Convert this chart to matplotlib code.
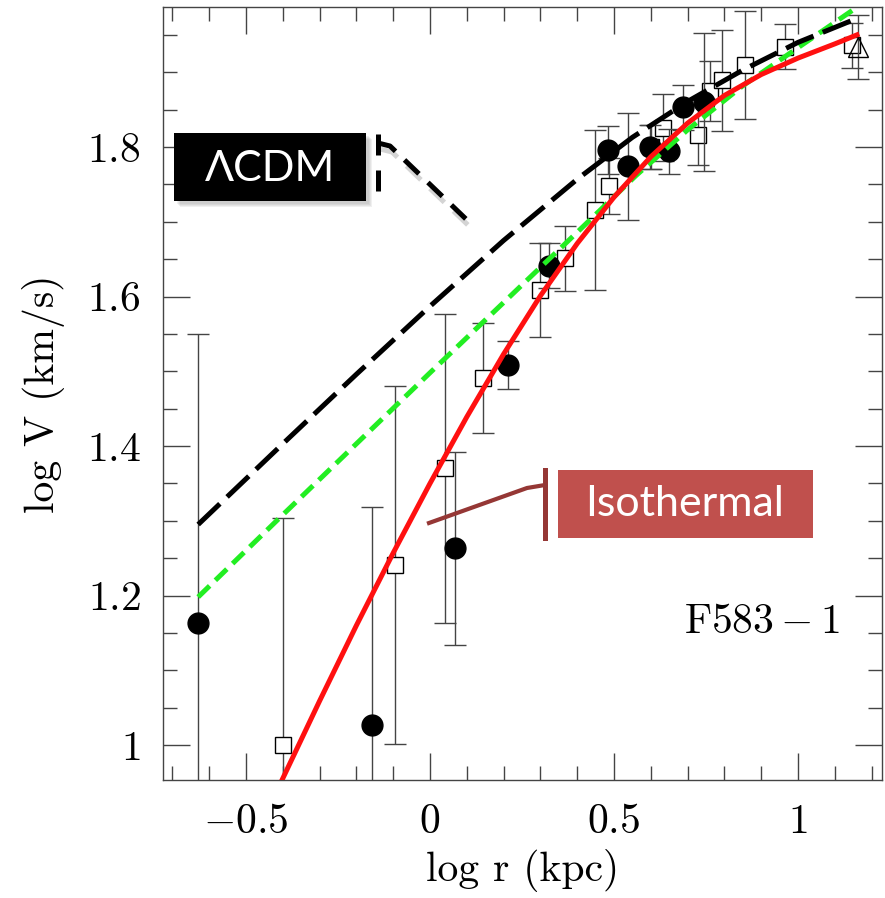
import numpy as np
import matplotlib
import matplotlib.pyplot as plt
from matplotlib.patches import Rectangle
from matplotlib.lines import Line2D
from matplotlib.transforms import Affine2D
from matplotlib.ticker import MultipleLocator, FuncFormatter

plt.rcParams['font.family'] = 'serif'
plt.rcParams['font.serif'] = ['cmr10']
plt.rcParams['mathtext.fontset'] = 'cm'
plt.rcParams['axes.formatter.use_mathtext'] = True

# observed points (log r, log V, error)
circ_x = [-0.630, -0.158, 0.068, 0.213, 0.323, 0.484, 0.539, 0.598, 0.648, 0.688, 0.745]
circ_y = [1.163, 1.027, 1.263, 1.508, 1.641, 1.796, 1.774, 1.800, 1.794, 1.853, 1.860]
circ_e = [0.387, 0.291, 0.129, 0.032, 0.030, 0.032, 0.072, 0.030, 0.030, 0.030, 0.092]

sq_x = [-0.399, -0.095, 0.041, 0.145, 0.299, 0.367, 0.448, 0.485, 0.600, 0.634,
        0.729, 0.760, 0.793, 0.856, 0.965, 1.146]
sq_y = [1.000, 1.241, 1.370, 1.491, 1.609, 1.651, 1.716, 1.748, 1.800, 1.826,
        1.816, 1.875, 1.889, 1.910, 1.934, 1.936]
sq_e = [0.304, 0.239, 0.207, 0.073, 0.063, 0.043, 0.107, 0.037, 0.030, 0.045,
        0.040, 0.040, 0.068, 0.072, 0.030, 0.030]

tri_x = [1.164]
tri_y = [1.934]
tri_e = [0.043]

# model curves
lcdm_x = [-0.63, -0.4, -0.2, 0.0, 0.2, 0.4, 0.55, 0.7, 0.85, 1.0, 1.16]
lcdm_y = [1.295, 1.403, 1.496, 1.587, 1.675, 1.757, 1.813, 1.861, 1.903, 1.940, 1.972]

green_x = [-0.63, -0.4, -0.2, 0.0, 0.2, 0.4, 0.56, 0.7, 0.85, 1.0, 1.16]
green_y = [1.198, 1.308, 1.403, 1.498, 1.592, 1.686, 1.762, 1.823, 1.882, 1.933, 1.987]

iso_x = [-0.41, -0.3, -0.2, -0.1, 0.0, 0.1, 0.2, 0.3, 0.4, 0.5, 0.6, 0.7, 0.8,
         0.9, 1.0, 1.1, 1.16]
iso_y = [0.945, 1.059, 1.160, 1.257, 1.350, 1.439, 1.523, 1.601, 1.671, 1.733,
         1.787, 1.832, 1.869, 1.897, 1.919, 1.938, 1.950]

W, H = 885, 898
fig = plt.figure(figsize=(W / 100, H / 100), dpi=100)
ax = fig.add_axes([163 / W, 1 - 780 / H, (882 - 163) / W, (780 - 7.3) / H])

ebar_col = '#444444'
kw = dict(ecolor=ebar_col, elinewidth=1.0, capsize=8, capthick=1.0, linestyle='none')
ax.errorbar(sq_x, sq_y, yerr=sq_e, marker='s', ms=12, mfc='white', mec='black', mew=1.0, zorder=3, **kw)
ax.errorbar(circ_x, circ_y, yerr=circ_e, marker='o', ms=15, mfc='black', mec='black', zorder=4, **kw)
ax.errorbar(tri_x, tri_y, yerr=tri_e, marker='^', ms=15, mfc='none', mec='black', mew=1.0, zorder=4, **kw)

ax.plot(green_x, green_y, color='#22ee22', lw=3.6, dashes=(3.2, 1.6), zorder=5)
ax.plot(lcdm_x, lcdm_y, color='black', lw=3.6, dashes=(6, 2), zorder=6)
ax.plot(iso_x, iso_y, color='#ff1010', lw=3.6, zorder=7, solid_joinstyle='round')

ax.set_xlim(-0.7255, 1.228)
ax.set_ylim(0.9532, 1.9869)
ax.xaxis.set_major_locator(MultipleLocator(0.5))
ax.xaxis.set_minor_locator(MultipleLocator(0.1))
ax.yaxis.set_major_locator(MultipleLocator(0.2))
ax.yaxis.set_minor_locator(MultipleLocator(0.05))
fmt = FuncFormatter(lambda v, p: '$%g$' % round(v, 2))
ax.xaxis.set_major_formatter(fmt)
ax.yaxis.set_major_formatter(fmt)
ax.tick_params(which='both', direction='in', top=True, right=True, color='#444444', width=1.0)
ax.tick_params(which='major', length=19.5, labelsize=30)
ax.tick_params(which='minor', length=10)
ax.tick_params(axis='y', which='major', pad=16)
ax.tick_params(axis='x', which='major', pad=17)
for s in ax.spines.values():
    s.set_color('#444444')
    s.set_linewidth(1.0)

ax.set_xlabel('log r (kpc)', fontsize=30, labelpad=6)
ax.set_ylabel('log V (km/s)', fontsize=30, labelpad=16)
ax.text(0.9416, 0.2045, r'$\mathrm{F583-1}$', transform=ax.transAxes, fontsize=30,
        ha='right', va='center')

# pixel-space transform for the callout overlays
T = Affine2D().scale(1 / W, -1 / H).translate(0, 1) + fig.transFigure

# LCDM callout
for off in [6, 5, 4, 3]:
    fig.add_artist(Rectangle((174 + off, 133 + off), 192, 68, transform=T,
                             facecolor='#888888', alpha=0.12, lw=0))
fig.add_artist(Rectangle((174, 133), 192, 68, transform=T, facecolor='black', lw=0))
t1 = fig.text(0, 0, '\u039bCDM', fontsize=31, color='white',
              family=['Lato'], ha='center', va='center')
t1.set_transform(T)
t1.set_position((270, 169))
fig.add_artist(Line2D([380, 392, 469], [149, 152, 226], transform=T, color='#aaaaaa',
                      lw=3.6, dashes=(4, 2.5), alpha=0.5))
fig.add_artist(Line2D([378, 378], [134, 192], transform=T, color='black', lw=3.6,
                      dashes=(4.2, 3), solid_capstyle='butt'))
fig.add_artist(Line2D([378, 390, 467], [143, 146, 220], transform=T, color='black',
                      lw=3.6, dashes=(4, 2.5)))

# Isothermal callout
fig.add_artist(Rectangle((558, 470), 255, 68, transform=T, facecolor='#c0504d', lw=0))
fig.add_artist(Line2D([545, 545], [470, 538], transform=T, color='#953735', lw=3.6))
fig.add_artist(Line2D([429, 527, 545], [523, 488, 485], transform=T, color='#953735', lw=3.0))
t2 = fig.text(0, 0, 'Isothermal', fontsize=31, color='white', family=['Lato'],
              ha='center', va='center')
t2.set_transform(T)
t2.set_position((685, 504))

fig.savefig('out.png', dpi=100)
